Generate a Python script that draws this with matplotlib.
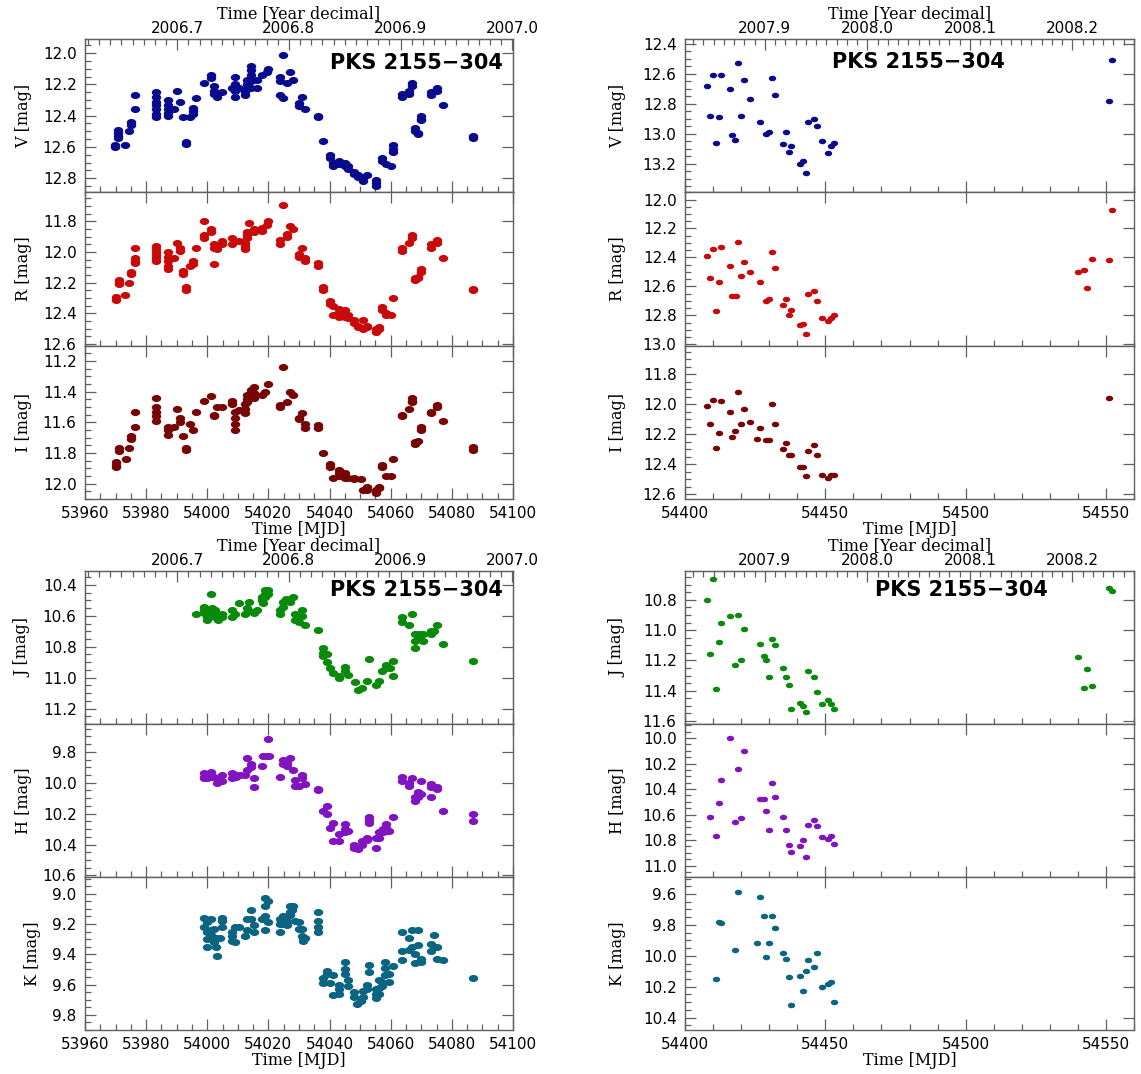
import numpy as np
import matplotlib
matplotlib.use("Agg")
import matplotlib.pyplot as plt
from matplotlib.path import Path
from matplotlib.transforms import Affine2D
from matplotlib.ticker import MultipleLocator, FormatStrFormatter

# ---------------- data: 2006 campaign (left), nights + magnitudes per night
v_l_t = [53969.8, 53970.9, 53973.1, 53974.4, 53975.2, 53976.3, 53983.1, 53987.2, 53989.1, 53990.1,
         53991.2, 53992.1, 53993.1, 53994.4, 53995.3, 53996.2, 53998.9, 54001.1, 54002.1, 54003.3,
         54004.9, 54008.0, 54009.1, 54010.4, 54012.2, 54013.0, 54014.3, 54016.1, 54017.9, 54019.4,
         54020.0, 54023.9, 54024.9, 54026.0, 54026.9, 54028.1, 54029.9, 54031.1, 54032.1, 54036.1,
         54037.9, 54040.2, 54041.1, 54043.1, 54045.0, 54046.0, 54048.1, 54049.2, 54051.0, 54052.1,
         54055.2, 54057.0, 54058.5, 54060.1, 54060.9, 54063.8, 54065.9, 54067.0, 54067.9, 54068.9,
         54070.0, 54073.2, 54075.0, 54077.1, 54087.0]
v_l_m = [[12.59, 12.60], [12.49, 12.51, 12.53, 12.54], [12.59], [12.50], [12.44, 12.46], [12.27, 12.36],
         [12.25, 12.28, 12.31, 12.33, 12.36, 12.39, 12.41], [12.30, 12.33, 12.36, 12.38, 12.40], [12.36],
         [12.24], [12.31], [12.41], [12.57, 12.58], [12.41], [12.35, 12.37, 12.39], [12.29], [12.19],
         [12.14, 12.16], [12.21, 12.24, 12.26], [12.28], [12.25], [12.22], [12.15, 12.20, 12.24, 12.28],
         [12.22], [12.25, 12.27], [12.17, 12.20, 12.22], [12.08, 12.11, 12.14, 12.18, 12.22], [12.17, 12.22],
         [12.14], [12.12], [12.10], [12.15, 12.18, 12.27], [12.01, 12.29], [12.19], [12.12], [12.17],
         [12.32, 12.34], [12.28], [12.36], [12.40, 12.41], [12.56], [12.65, 12.67], [12.70, 12.72],
         [12.69, 12.71], [12.70, 12.72], [12.72, 12.74], [12.76, 12.77], [12.78, 12.79], [12.80, 12.82],
         [12.78], [12.81, 12.83, 12.85], [12.67, 12.69], [12.71], [12.72], [12.59, 12.61, 12.63],
         [12.26, 12.28], [12.24, 12.26], [12.19, 12.21], [12.48, 12.50], [12.51, 12.52], [12.40, 12.42, 12.43],
         [12.25, 12.27], [12.22, 12.24], [12.33], [12.53, 12.54]]

r_l_t = [53970.1, 53971.1, 53973.1, 53974.4, 53975.2, 53976.3, 53983.1, 53987.2, 53989.1, 53990.1,
         53991.2, 53992.1, 53993.1, 53994.4, 53995.3, 53996.2, 53998.9, 54001.1, 54002.1, 54003.3,
         54004.9, 54008.0, 54010.4, 54012.2, 54013.0, 54013.6, 54015.2, 54017.9, 54019.4, 54020.0,
         54023.9, 54024.9, 54026.0, 54026.9, 54028.1, 54029.9, 54031.1, 54032.1, 54036.1, 54037.9,
         54040.2, 54041.1, 54043.1, 54045.0, 54046.0, 54048.1, 54049.2, 54051.0, 54052.1, 54055.2,
         54056.3, 54057.0, 54058.5, 54060.1, 54060.9, 54063.8, 54065.9, 54067.0, 54067.9, 54068.9,
         54070.0, 54073.2, 54075.0, 54077.1, 54087.0]
r_l_m = [[12.29, 12.31], [12.18, 12.20, 12.21], [12.28], [12.20], [12.13, 12.14], [11.97, 12.04, 12.06, 12.07],
         [11.96, 11.98, 12.00, 12.02, 12.04, 12.06], [12.00, 12.03, 12.06, 12.09, 12.11], [12.04], [11.94],
         [11.97, 11.99], [12.12, 12.14], [12.23, 12.25], [12.09], [12.06, 12.08], [11.97], [11.80, 11.89, 11.91],
         [11.85, 11.87], [11.95, 11.97, 12.08], [11.98], [11.93, 11.95], [11.91, 11.95], [11.93],
         [11.94, 11.96, 11.98], [11.87, 11.89, 11.91], [11.81], [11.85, 11.87], [11.84, 11.86], [11.82],
         [11.80], [11.92, 11.95], [11.69], [11.88, 11.90], [11.83], [11.85], [12.01, 12.03], [11.97],
         [12.04, 12.06], [12.07, 12.09], [12.23, 12.25], [12.32, 12.34], [12.35, 12.41], [12.37, 12.39, 12.42],
         [12.38, 12.40, 12.42], [12.41, 12.43], [12.44, 12.46], [12.48, 12.49], [12.44, 12.50], [12.48, 12.49],
         [12.50, 12.52], [12.49, 12.50], [12.36, 12.38], [12.40, 12.41], [12.41], [12.30], [11.97, 11.99],
         [11.94], [11.89, 11.91], [12.17, 12.18], [12.16, 12.17], [12.11, 12.13], [11.95, 11.97],
         [11.92, 11.94], [12.04], [12.24, 12.25]]

i_l_t = [53970.1, 53971.1, 53973.3, 53974.4, 53975.2, 53976.3, 53983.1, 53987.2, 53989.1, 53990.1,
         53991.2, 53992.1, 53993.1, 53994.4, 53995.3, 53996.2, 53998.9, 54001.1, 54002.1, 54003.3,
         54004.9, 54008.0, 54009.1, 54010.4, 54012.2, 54013.0, 54014.3, 54015.2, 54017.9, 54018.8,
         54020.0, 54023.9, 54024.9, 54026.0, 54026.9, 54028.1, 54029.9, 54031.1, 54032.1, 54036.1,
         54037.9, 54040.2, 54041.1, 54043.1, 54045.0, 54046.0, 54048.1, 54050.2, 54051.0, 54052.1,
         54055.2, 54056.3, 54057.0, 54058.5, 54060.1, 54060.9, 54063.8, 54065.9, 54067.0, 54067.9,
         54068.9, 54070.0, 54073.2, 54075.0, 54077.1, 54087.0]
i_l_m = [[11.86, 11.88, 11.89], [11.77, 11.79], [11.84], [11.77], [11.69, 11.71], [11.53, 11.63],
         [11.44, 11.50, 11.53, 11.56, 11.59], [11.63, 11.65, 11.68], [11.63], [11.51], [11.57, 11.60],
         [11.69], [11.77, 11.78], [11.61], [11.65], [11.53], [11.46], [11.43], [11.55, 11.56], [11.50],
         [11.50], [11.46, 11.48], [11.53, 11.57, 11.61, 11.65], [11.52], [11.48, 11.51, 11.54],
         [11.42, 11.45, 11.47], [11.39, 11.42, 11.44], [11.37, 11.41, 11.44], [11.42], [11.40], [11.35],
         [11.49, 11.50], [11.24], [11.47], [11.40], [11.42], [11.57, 11.58], [11.54], [11.61, 11.64],
         [11.62, 11.64], [11.80], [11.87, 11.89], [11.96], [11.91, 11.93, 11.95], [11.93, 11.96], [11.96],
         [11.96, 11.97], [11.97], [12.04], [12.02, 12.04], [12.04, 12.06], [12.02, 12.03], [11.88, 11.89],
         [11.95], [11.95], [11.84], [11.55, 11.56], [11.51], [11.44, 11.46, 11.47], [11.73, 11.74], [11.72],
         [11.63, 11.65], [11.53, 11.54], [11.49, 11.50], [11.59], [11.76, 11.78]]

j_l_t = [53996.2, 53998.9, 54000.0, 54001.1, 54001.4, 54002.5, 54003.6, 54004.9, 54008.0, 54009.1,
         54010.4, 54012.2, 54013.0, 54013.6, 54015.2, 54016.1, 54017.9, 54018.3, 54018.8, 54020.0,
         54023.9, 54024.9, 54025.7, 54026.9, 54028.1, 54028.7, 54029.9, 54031.1, 54032.1, 54036.3,
         54037.9, 54039.2, 54040.2, 54041.2, 54043.1, 54045.0, 54046.0, 54048.3, 54049.4, 54050.5,
         54052.1, 54053.0, 54055.2, 54056.3, 54057.0, 54058.5, 54059.8, 54060.9, 54063.8, 54065.9,
         54067.0, 54067.9, 54069.4, 54070.4, 54073.2, 54074.0, 54075.0, 54077.1, 54087.0]
j_l_m = [[10.59], [10.54, 10.56, 10.58], [10.59, 10.61, 10.63], [10.46], [10.55, 10.57, 10.59],
         [10.56, 10.58, 10.61], [10.63], [10.59, 10.61], [10.56, 10.61], [10.59], [10.52], [10.59], [10.55],
         [10.51, 10.57], [10.58], [10.56], [10.48, 10.50], [10.52], [10.43, 10.46, 10.48], [10.43, 10.46],
         [10.56, 10.59], [10.51, 10.54], [10.49], [10.51], [10.48], [10.59, 10.63], [10.64], [10.56, 10.60],
         [10.66], [10.69], [10.81, 10.84, 10.86], [10.85, 10.90], [10.94], [10.97], [10.99, 11.00],
         [10.93, 10.96], [10.98], [11.03], [11.08], [11.07], [11.02], [10.88], [11.05], [11.02], [10.96],
         [10.92, 10.94], [10.94], [10.89, 10.99], [10.61, 10.64], [10.66], [10.59], [10.72, 10.76, 10.81],
         [10.72, 10.75], [10.72, 10.76], [10.70, 10.72], [10.70], [10.66], [10.78], [10.89]]

h_l_t = [53998.9, 54000.0, 54001.1, 54002.1, 54003.3, 54004.9, 54008.0, 54009.4, 54010.7, 54012.3,
         54013.0, 54014.3, 54015.2, 54017.9, 54018.3, 54019.4, 54020.0, 54020.3, 54023.9, 54024.9,
         54026.0, 54026.9, 54028.1, 54028.7, 54029.9, 54031.1, 54032.1, 54036.1, 54037.7, 54039.2,
         54040.2, 54041.1, 54043.1, 54045.0, 54046.0, 54048.1, 54049.4, 54050.5, 54052.1, 54053.0,
         54055.2, 54056.3, 54057.6, 54058.5, 54059.4, 54060.9, 54063.8, 54065.9, 54067.0, 54067.9,
         54068.9, 54070.0, 54073.2, 54075.0, 54077.1, 54087.0]
h_l_m = [[9.94, 9.96, 9.97], [9.95, 9.97], [9.93, 9.96], [9.96], [9.97, 10.00], [9.95, 9.99], [9.94, 9.97],
         [9.95, 9.96], [9.95], [9.95], [9.84, 9.92], [9.88, 9.90], [9.97, 10.03], [9.89], [9.83], [9.83],
         [9.72], [9.83], [9.96], [9.85, 9.88], [9.87, 9.89], [9.84], [9.92], [9.98, 10.02], [10.02],
         [9.95, 9.97], [10.01], [10.04, 10.05], [10.18], [10.15, 10.20], [10.29], [10.26, 10.38],
         [10.33, 10.38], [10.27, 10.30, 10.32], [10.31], [10.40, 10.42], [10.43], [10.38, 10.40],
         [10.36, 10.37], [10.22, 10.24, 10.26], [10.36, 10.42], [10.32, 10.36], [10.30, 10.32],
         [10.27, 10.29, 10.31], [10.31], [10.22], [9.96, 9.99], [10.00, 10.02], [9.97], [10.09, 10.12],
         [10.06, 10.09], [9.99, 10.07], [10.01, 10.03, 10.09], [10.03, 10.04], [10.18], [10.20, 10.25]]

k_l_t = [53998.9, 53999.8, 54001.1, 54002.1, 54002.8, 54003.3, 54004.1, 54004.9, 54008.0, 54009.1,
         54010.4, 54012.2, 54013.0, 54014.3, 54015.2, 54017.9, 54018.8, 54020.0, 54023.9, 54024.9,
         54026.0, 54026.9, 54027.6, 54028.1, 54028.7, 54029.9, 54031.1, 54031.4, 54032.1, 54036.1,
         54037.9, 54039.2, 54040.2, 54041.1, 54043.1, 54045.0, 54046.0, 54048.1, 54049.0, 54050.2,
         54051.0, 54052.1, 54053.0, 54055.2, 54056.3, 54057.0, 54058.1, 54059.4, 54060.9, 54063.8,
         54065.9, 54067.0, 54067.9, 54068.9, 54070.0, 54073.2, 54074.0, 54075.0, 54077.1, 54087.0]
k_l_m = [[9.16, 9.22], [9.19, 9.25, 9.30, 9.35], [9.17, 9.24, 9.27], [9.23, 9.32], [9.29, 9.35], [9.41],
         [9.29], [9.16, 9.18, 9.22], [9.25, 9.28, 9.31], [9.22, 9.32], [9.22], [9.28], [9.17, 9.24],
         [9.11, 9.17], [9.21, 9.25], [9.17], [9.03, 9.08, 9.15, 9.24], [9.05, 9.19], [9.17, 9.20, 9.25],
         [9.15, 9.20], [9.18, 9.21], [9.08, 9.12, 9.14], [9.11], [9.08], [9.18], [9.19, 9.23], [9.23, 9.28],
         [9.29, 9.31], [9.29], [9.12, 9.18, 9.22, 9.25], [9.56, 9.59], [9.51, 9.53], [9.59], [9.54, 9.67],
         [9.60, 9.63, 9.66], [9.45, 9.50, 9.53], [9.57, 9.61], [9.65, 9.68], [9.73], [9.71], [9.64, 9.68],
         [9.60, 9.63], [9.47, 9.52], [9.63, 9.66, 9.69], [9.57, 9.62, 9.66], [9.58, 9.61], [9.45, 9.49, 9.54],
         [9.53, 9.58], [9.48], [9.25, 9.38, 9.44], [9.29, 9.37], [9.24, 9.35], [9.40, 9.46], [9.24, 9.34],
         [9.43, 9.45], [9.33, 9.38], [9.27], [9.35, 9.43], [9.44], [9.56]]

# ---------------- data: 2007/08 campaign (right), one point per night
v_r_t = [54408.0, 54409.0, 54410.1, 54411.0, 54412.0, 54413.0, 54415.9, 54416.9, 54417.9, 54419.0,
         54420.0, 54421.0, 54423.0, 54426.8, 54429.0, 54430.1, 54431.0, 54432.0, 54435.0, 54435.9,
         54436.9, 54437.9, 54440.9, 54441.9, 54443.0, 54444.0, 54446.1, 54447.1, 54448.8, 54451.0,
         54452.0, 54453.0, 54551.2, 54552.3]
v_r_m = [12.68, 12.88, 12.61, 13.06, 12.89, 12.61, 12.70, 13.01, 13.04, 12.53, 12.88, 12.64, 12.77, 12.92,
         13.00, 12.99, 12.63, 12.74, 13.07, 12.99, 13.12, 13.08, 13.20, 13.18, 13.26, 12.92, 12.90, 12.95,
         13.05, 13.13, 13.08, 13.06, 12.78, 12.51]

r_r_t = [54408.0, 54409.0, 54410.1, 54411.0, 54412.0, 54413.0, 54415.9, 54416.9, 54418.2, 54419.0,
         54420.0, 54421.0, 54423.0, 54426.8, 54429.0, 54430.1, 54431.0, 54432.0, 54435.0, 54435.9,
         54436.9, 54437.9, 54440.9, 54441.9, 54443.0, 54444.0, 54446.1, 54447.1, 54448.8, 54451.0,
         54452.0, 54453.0, 54540.0, 54542.1, 54543.2, 54545.2, 54551.2, 54552.3]
r_r_m = [12.39, 12.54, 12.34, 12.77, 12.57, 12.33, 12.46, 12.67, 12.67, 12.29, 12.53, 12.43, 12.50, 12.57,
         12.70, 12.69, 12.36, 12.47, 12.73, 12.69, 12.80, 12.76, 12.87, 12.86, 12.93, 12.65, 12.63, 12.70,
         12.82, 12.84, 12.82, 12.80, 12.50, 12.49, 12.61, 12.41, 12.42, 12.07]

i_r_t = [54408.0, 54409.0, 54410.1, 54411.0, 54412.0, 54413.0, 54415.9, 54416.9, 54417.9, 54419.0,
         54420.0, 54421.0, 54423.0, 54425.8, 54426.8, 54429.0, 54430.1, 54431.0, 54432.0, 54435.0,
         54435.9, 54436.9, 54437.9, 54440.9, 54441.9, 54443.0, 54444.0, 54446.1, 54447.1, 54448.8,
         54451.0, 54452.0, 54453.0, 54551.2]
i_r_m = [12.01, 12.13, 11.97, 12.29, 12.19, 11.98, 12.05, 12.22, 12.18, 11.92, 12.13, 12.03, 12.12, 12.23,
         12.16, 12.24, 12.24, 12.00, 12.13, 12.30, 12.26, 12.34, 12.34, 12.42, 12.42, 12.48, 12.31, 12.27,
         12.34, 12.47, 12.49, 12.47, 12.47, 11.96]

j_r_t = [54408.0, 54409.0, 54410.1, 54411.0, 54412.0, 54413.0, 54415.9, 54417.9, 54419.0, 54420.0,
         54421.0, 54423.0, 54426.8, 54428.0, 54429.0, 54430.1, 54431.0, 54432.0, 54435.0, 54435.9,
         54436.9, 54437.9, 54440.9, 54441.9, 54443.0, 54444.0, 54446.1, 54447.1, 54448.8, 54451.0,
         54452.0, 54453.0, 54540.0, 54542.1, 54543.2, 54545.2, 54551.2, 54552.3]
j_r_m = [10.80, 11.16, 10.66, 11.39, 11.08, 10.95, 10.91, 11.23, 10.90, 11.20, 10.99, 10.59, 11.09, 11.17,
         11.20, 11.31, 11.06, 11.10, 11.25, 11.31, 11.36, 11.52, 11.48, 11.50, 11.54, 11.27, 11.31, 11.41,
         11.49, 11.46, 11.49, 11.52, 11.18, 11.38, 11.26, 11.37, 10.72, 10.74]

h_r_t = [54409.0, 54411.0, 54412.0, 54413.0, 54415.9, 54417.9, 54419.0, 54420.0, 54421.0, 54426.8,
         54428.0, 54429.0, 54430.1, 54431.0, 54432.0, 54435.0, 54435.9, 54436.9, 54437.9, 54440.9,
         54441.9, 54443.0, 54444.0, 54446.1, 54447.1, 54448.8, 54451.0, 54452.0, 54453.0]
h_r_m = [10.62, 10.77, 10.51, 10.33, 10.00, 10.66, 10.24, 10.63, 10.10, 10.48, 10.48, 10.57, 10.72, 10.35,
         10.46, 10.62, 10.72, 10.84, 10.89, 10.85, 10.80, 10.93, 10.68, 10.64, 10.69, 10.78, 10.79, 10.77,
         10.83]

k_r_t = [54411.0, 54412.0, 54413.0, 54417.9, 54419.0, 54425.8, 54426.8, 54428.0, 54429.0, 54430.1,
         54431.0, 54432.0, 54435.0, 54435.9, 54436.9, 54437.9, 54440.9, 54441.9, 54443.0, 54444.0,
         54446.1, 54447.1, 54448.8, 54451.0, 54452.0, 54453.0]
k_r_m = [10.15, 9.78, 9.79, 9.96, 9.59, 9.92, 9.62, 9.74, 10.01, 9.92, 9.74, 9.82, 9.98, 10.02, 10.14,
         10.32, 10.13, 10.23, 10.10, 10.03, 10.07, 9.98, 10.20, 10.18, 10.17, 10.30]

band_colors = ['#0A0A8C', '#C80A0A', '#780505', '#0A8A0A', '#8214C0', '#0A6482']
year_ticks_left = [2006.7, 2006.8, 2006.9, 2007.0]
year_ticks_right = [2007.9, 2008.0, 2008.1, 2008.2]
source = 'PKS 2155\u2212304'


def flat(nights, mags):
    t = np.concatenate([[n] * len(m) for n, m in zip(nights, mags)])
    return t, np.concatenate(mags)


def mjd2yr(m):
    return 2006.0 + (m - 53734.5) / 365.25


ell = Path.unit_circle().transformed(Affine2D().scale(1.0, 0.75))

W, H = 1141, 1074
fig = plt.figure(figsize=(W / 100, H / 100), dpi=100)
frame_col = '#606060'
lab_font = dict(family='DejaVu Serif', size=11.5)


def style_ticks(ax, which_axis):
    ax.tick_params(axis=which_axis, which='both', direction='in', color=frame_col, width=0.9,
                   labelsize=11)
    ax.tick_params(axis=which_axis, which='major', length=8)
    ax.tick_params(axis=which_axis, which='minor', length=4)


def panel_group(x0, x1, ytop, ybot, series, xlim, xmaj, xmin, yticks, ms, ylpad, txtpos):
    hpx = (ybot - ytop) / 3.0
    for k, ((t, m), yl, col, name) in enumerate(series):
        top = ytop + k * hpx
        ax = fig.add_axes([x0 / W, 1 - (top + hpx) / H, (x1 - x0) / W, hpx / H])
        ax.plot(t, m, ls='none', marker=ell, ms=ms, color=col, mec=col, mew=0)
        ax.set_xlim(*xlim)
        ax.set_ylim(*yl)
        ax.xaxis.set_major_locator(MultipleLocator(xmaj))
        ax.xaxis.set_minor_locator(MultipleLocator(xmin))
        ax.yaxis.set_major_locator(MultipleLocator(0.2))
        ax.yaxis.set_minor_locator(MultipleLocator(0.05))
        ax.yaxis.set_major_formatter(FormatStrFormatter('%.1f'))
        style_ticks(ax, 'x')
        style_ticks(ax, 'y')
        ax.tick_params(axis='x', top=(k > 0), pad=5)
        ax.tick_params(axis='y', right=True, pad=6)
        for s in ax.spines.values():
            s.set_color(frame_col)
            s.set_linewidth(1.0)
        ax.set_ylabel(name + ' [mag]', fontdict=lab_font, labelpad=ylpad)
        if k < 2:
            ax.tick_params(labelbottom=False)
        else:
            ax.set_xlabel('Time [MJD]', fontdict=lab_font, labelpad=0)
        if k == 0:
            top_ax = ax.twiny()
            top_ax.set_xlim(mjd2yr(xlim[0]), mjd2yr(xlim[1]))
            top_ax.set_xticks(yticks)
            top_ax.xaxis.set_major_formatter(FormatStrFormatter('%.1f'))
            top_ax.xaxis.set_minor_locator(MultipleLocator(0.01))
            style_ticks(top_ax, 'x')
            top_ax.tick_params(axis='x', pad=2)
            for s in top_ax.spines.values():
                s.set_color(frame_col)
            top_ax.set_xlabel('Time [Year decimal]', fontdict=lab_font, labelpad=2)
            ax.text(txtpos[0], txtpos[1], source, transform=ax.transAxes, ha=txtpos[2], va='center',
                    fontsize=15, fontweight='bold', family='DejaVu Sans')


left_top = [(flat(v_l_t, v_l_m), (12.89, 11.91), band_colors[0], 'V'),
            (flat(r_l_t, r_l_m), (12.61, 11.61), band_colors[1], 'R'),
            (flat(i_l_t, i_l_m), (12.10, 11.10), band_colors[2], 'I')]
left_bot = [(flat(j_l_t, j_l_m), (11.30, 10.31), band_colors[3], 'J'),
            (flat(h_l_t, h_l_m), (10.61, 9.62), band_colors[4], 'H'),
            (flat(k_l_t, k_l_m), (9.90, 8.89), band_colors[5], 'K')]
right_top = [((v_r_t, v_r_m), (13.39, 12.37), band_colors[0], 'V'),
             ((r_r_t, r_r_m), (13.01, 11.95), band_colors[1], 'R'),
             ((i_r_t, i_r_m), (12.63, 11.61), band_colors[2], 'I')]
right_bot = [((j_r_t, j_r_m), (11.62, 10.61), band_colors[3], 'J'),
             ((h_r_t, h_r_m), (11.09, 9.89), band_colors[4], 'H'),
             ((k_r_t, k_r_m), (10.48, 9.49), band_colors[5], 'K')]

panel_group(85, 513, 39, 499, left_top, (53960, 54100), 20, 5, year_ticks_left, 6.8, 8,
            (0.977, 0.845, 'right'))
panel_group(85, 513, 571, 1030, left_bot, (53960, 54100), 20, 5, year_ticks_left, 6.8, 8,
            (0.977, 0.875, 'right'))
panel_group(685, 1134, 39, 499, right_top, (54400, 54560), 50, 10, year_ticks_right, 5.3, 12,
            (0.52, 0.85, 'center'))
panel_group(685, 1134, 571, 1030, right_bot, (54400, 54560), 50, 10, year_ticks_right, 5.3, 12,
            (0.615, 0.875, 'center'))

fig.savefig('out.png', dpi=100)
